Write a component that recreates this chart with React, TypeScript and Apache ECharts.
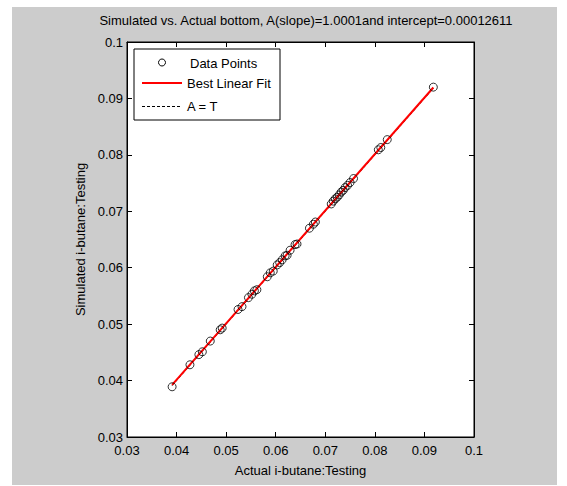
import React, { useEffect, useRef } from "react";
import * as echarts from "echarts";

const titleText = "Simulated vs. Actual bottom, A(slope)=1.0001and intercept=0.00012611";
const xAxisName = "Actual i-butane:Testing";
const yAxisName = "Simulated i-butane:Testing";
const tickValues = [0.03, 0.04, 0.05, 0.06, 0.07, 0.08, 0.09, 0.1];

const actualValues = [
  0.0391, 0.0427, 0.0445, 0.0452, 0.0468, 0.0488, 0.0492, 0.0524, 0.0532, 0.0545,
  0.0552, 0.0557, 0.0562, 0.0583, 0.0589, 0.0595, 0.0603, 0.0608, 0.0613, 0.0619,
  0.0623, 0.0629, 0.0639, 0.0643, 0.0668, 0.0676, 0.068, 0.0712, 0.0716, 0.072,
  0.0724, 0.0728, 0.0732, 0.0736, 0.074, 0.0745, 0.075, 0.0757, 0.0807, 0.0812,
  0.0825, 0.0918,
];
const simulatedValues = [
  0.0389, 0.0428, 0.0446, 0.0451, 0.047, 0.049, 0.0493, 0.0526, 0.0531, 0.0547,
  0.0553, 0.0559, 0.0561, 0.0584, 0.0591, 0.0594, 0.0605, 0.0609, 0.0614, 0.0621,
  0.0622, 0.0631, 0.0641, 0.0642, 0.067, 0.0677, 0.0681, 0.0713, 0.0718, 0.0722,
  0.0725, 0.0729, 0.0734, 0.0737, 0.0742, 0.0746, 0.0751, 0.0758, 0.0809, 0.0813,
  0.0827, 0.092,
];
const slope = 1.0001;
const intercept = 0.00012611;
const legendLabels = ["Data Points", "Best Linear Fit", "A = T"];

const FONT = "'Liberation Sans', Arial, sans-serif";
const FS = 13;

export default function App() {
  const ref = useRef<HTMLDivElement>(null);
  useEffect(() => {
    if (!ref.current) return;
    const chart = echarts.init(ref.current, null, { renderer: "svg" });
    const minX = Math.min(...actualValues);
    const maxX = Math.max(...actualValues);
    const points = actualValues.map((x, i) => [x, simulatedValues[i]]);
    const fitLine = [minX, maxX].map((x) => [x, slope * x + intercept]);
    const identity = [minX, maxX].map((x) => [x, x]);
    const fmt = (v: number) => String(parseFloat(v.toFixed(2)));
    const axisCommon = {
      type: "value" as const,
      min: tickValues[0],
      max: tickValues[tickValues.length - 1],
      interval: 0.01,
      splitLine: { show: false },
      axisLine: { show: true, lineStyle: { color: "#000", width: 1 } },
      axisTick: { show: true, inside: true, length: 5, lineStyle: { color: "#000" } },
    };
    chart.setOption({
      animation: false,
      backgroundColor: "transparent",
      textStyle: { fontFamily: FONT },
      title: {
        text: titleText,
        left: 301,
        textAlign: "center",
        top: 9,
        textStyle: { fontSize: FS, fontWeight: "normal", color: "#000", fontFamily: FONT },
      },
      grid: {
        left: 127,
        top: 42,
        width: 347,
        height: 395,
        show: true,
        backgroundColor: "#fff",
        borderColor: "#000",
        borderWidth: 1,
      },
      xAxis: [
        {
          ...axisCommon,
          position: "bottom",
          name: xAxisName,
          nameLocation: "middle",
          nameGap: 27,
          nameTextStyle: { fontSize: FS, color: "#000", fontFamily: FONT },
          axisLabel: {
            color: "#000",
            fontSize: FS,
            lineHeight: 13,
            margin: 7,
            formatter: fmt,
            fontFamily: FONT,
          },
        },
        {
          ...axisCommon,
          position: "top",
          axisLabel: { show: false },
        },
      ],
      yAxis: [
        {
          ...axisCommon,
          position: "left",
          name: yAxisName,
          nameLocation: "middle",
          nameGap: 34,
          nameTextStyle: { fontSize: FS, color: "#000", fontFamily: FONT },
          axisLabel: {
            color: "#000",
            fontSize: FS,
            lineHeight: 13,
            margin: 4,
            formatter: fmt,
            fontFamily: FONT,
          },
        },
        {
          ...axisCommon,
          position: "right",
          axisLabel: { show: false },
        },
      ],
      series: [
        {
          name: legendLabels[2],
          type: "line",
          data: identity,
          symbol: "none",
          lineStyle: { color: "#000", width: 1, type: [3, 2] },
          z: 1,
        },
        {
          name: legendLabels[1],
          type: "line",
          data: fitLine,
          symbol: "none",
          lineStyle: { color: "#ff0000", width: 2 },
          z: 2,
        },
        {
          name: legendLabels[0],
          type: "scatter",
          data: points,
          symbol: "circle",
          symbolSize: 8,
          itemStyle: { color: "rgba(0,0,0,0)", borderColor: "#000", borderWidth: 1 },
          z: 3,
        },
      ],
      graphic: [
        {
          type: "rect",
          shape: { x: 134, y: 49, width: 146, height: 71 },
          style: { fill: "#fff", stroke: "#000", lineWidth: 1 },
          z: 100,
        },
        {
          type: "circle",
          shape: { cx: 162, cy: 62.5, r: 3.5 },
          style: { fill: "none", stroke: "#000", lineWidth: 1 },
          z: 101,
        },
        {
          type: "text",
          x: 190,
          y: 63,
          style: { text: legendLabels[0], fill: "#000", fontSize: FS, fontFamily: FONT, verticalAlign: "middle" },
          z: 101,
        },
        {
          type: "line",
          shape: { x1: 142, y1: 83, x2: 182, y2: 83 },
          style: { stroke: "#ff0000", lineWidth: 2 },
          z: 101,
        },
        {
          type: "text",
          x: 187,
          y: 83,
          style: { text: legendLabels[1], fill: "#000", fontSize: FS, fontFamily: FONT, verticalAlign: "middle" },
          z: 101,
        },
        {
          type: "line",
          shape: { x1: 142, y1: 106.5, x2: 182, y2: 106.5 },
          style: { stroke: "#000", lineWidth: 1, lineDash: [3, 2] },
          z: 101,
        },
        {
          type: "text",
          x: 187,
          y: 106,
          style: { text: legendLabels[2], fill: "#000", fontSize: FS, fontFamily: FONT, verticalAlign: "middle" },
          z: 101,
        },
      ],
    });
    return () => chart.dispose();
  }, []);

  return (
    <div style={{ position: "fixed", left: 0, top: 0, width: 567, height: 486, background: "#fff" }}>
      <div
        style={{ position: "absolute", left: 12, top: 7, width: 545, height: 478, background: "#cccccc" }}
      />
      <div ref={ref} style={{ position: "absolute", left: 0, top: 0, width: 567, height: 486 }} />
    </div>
  );
}
